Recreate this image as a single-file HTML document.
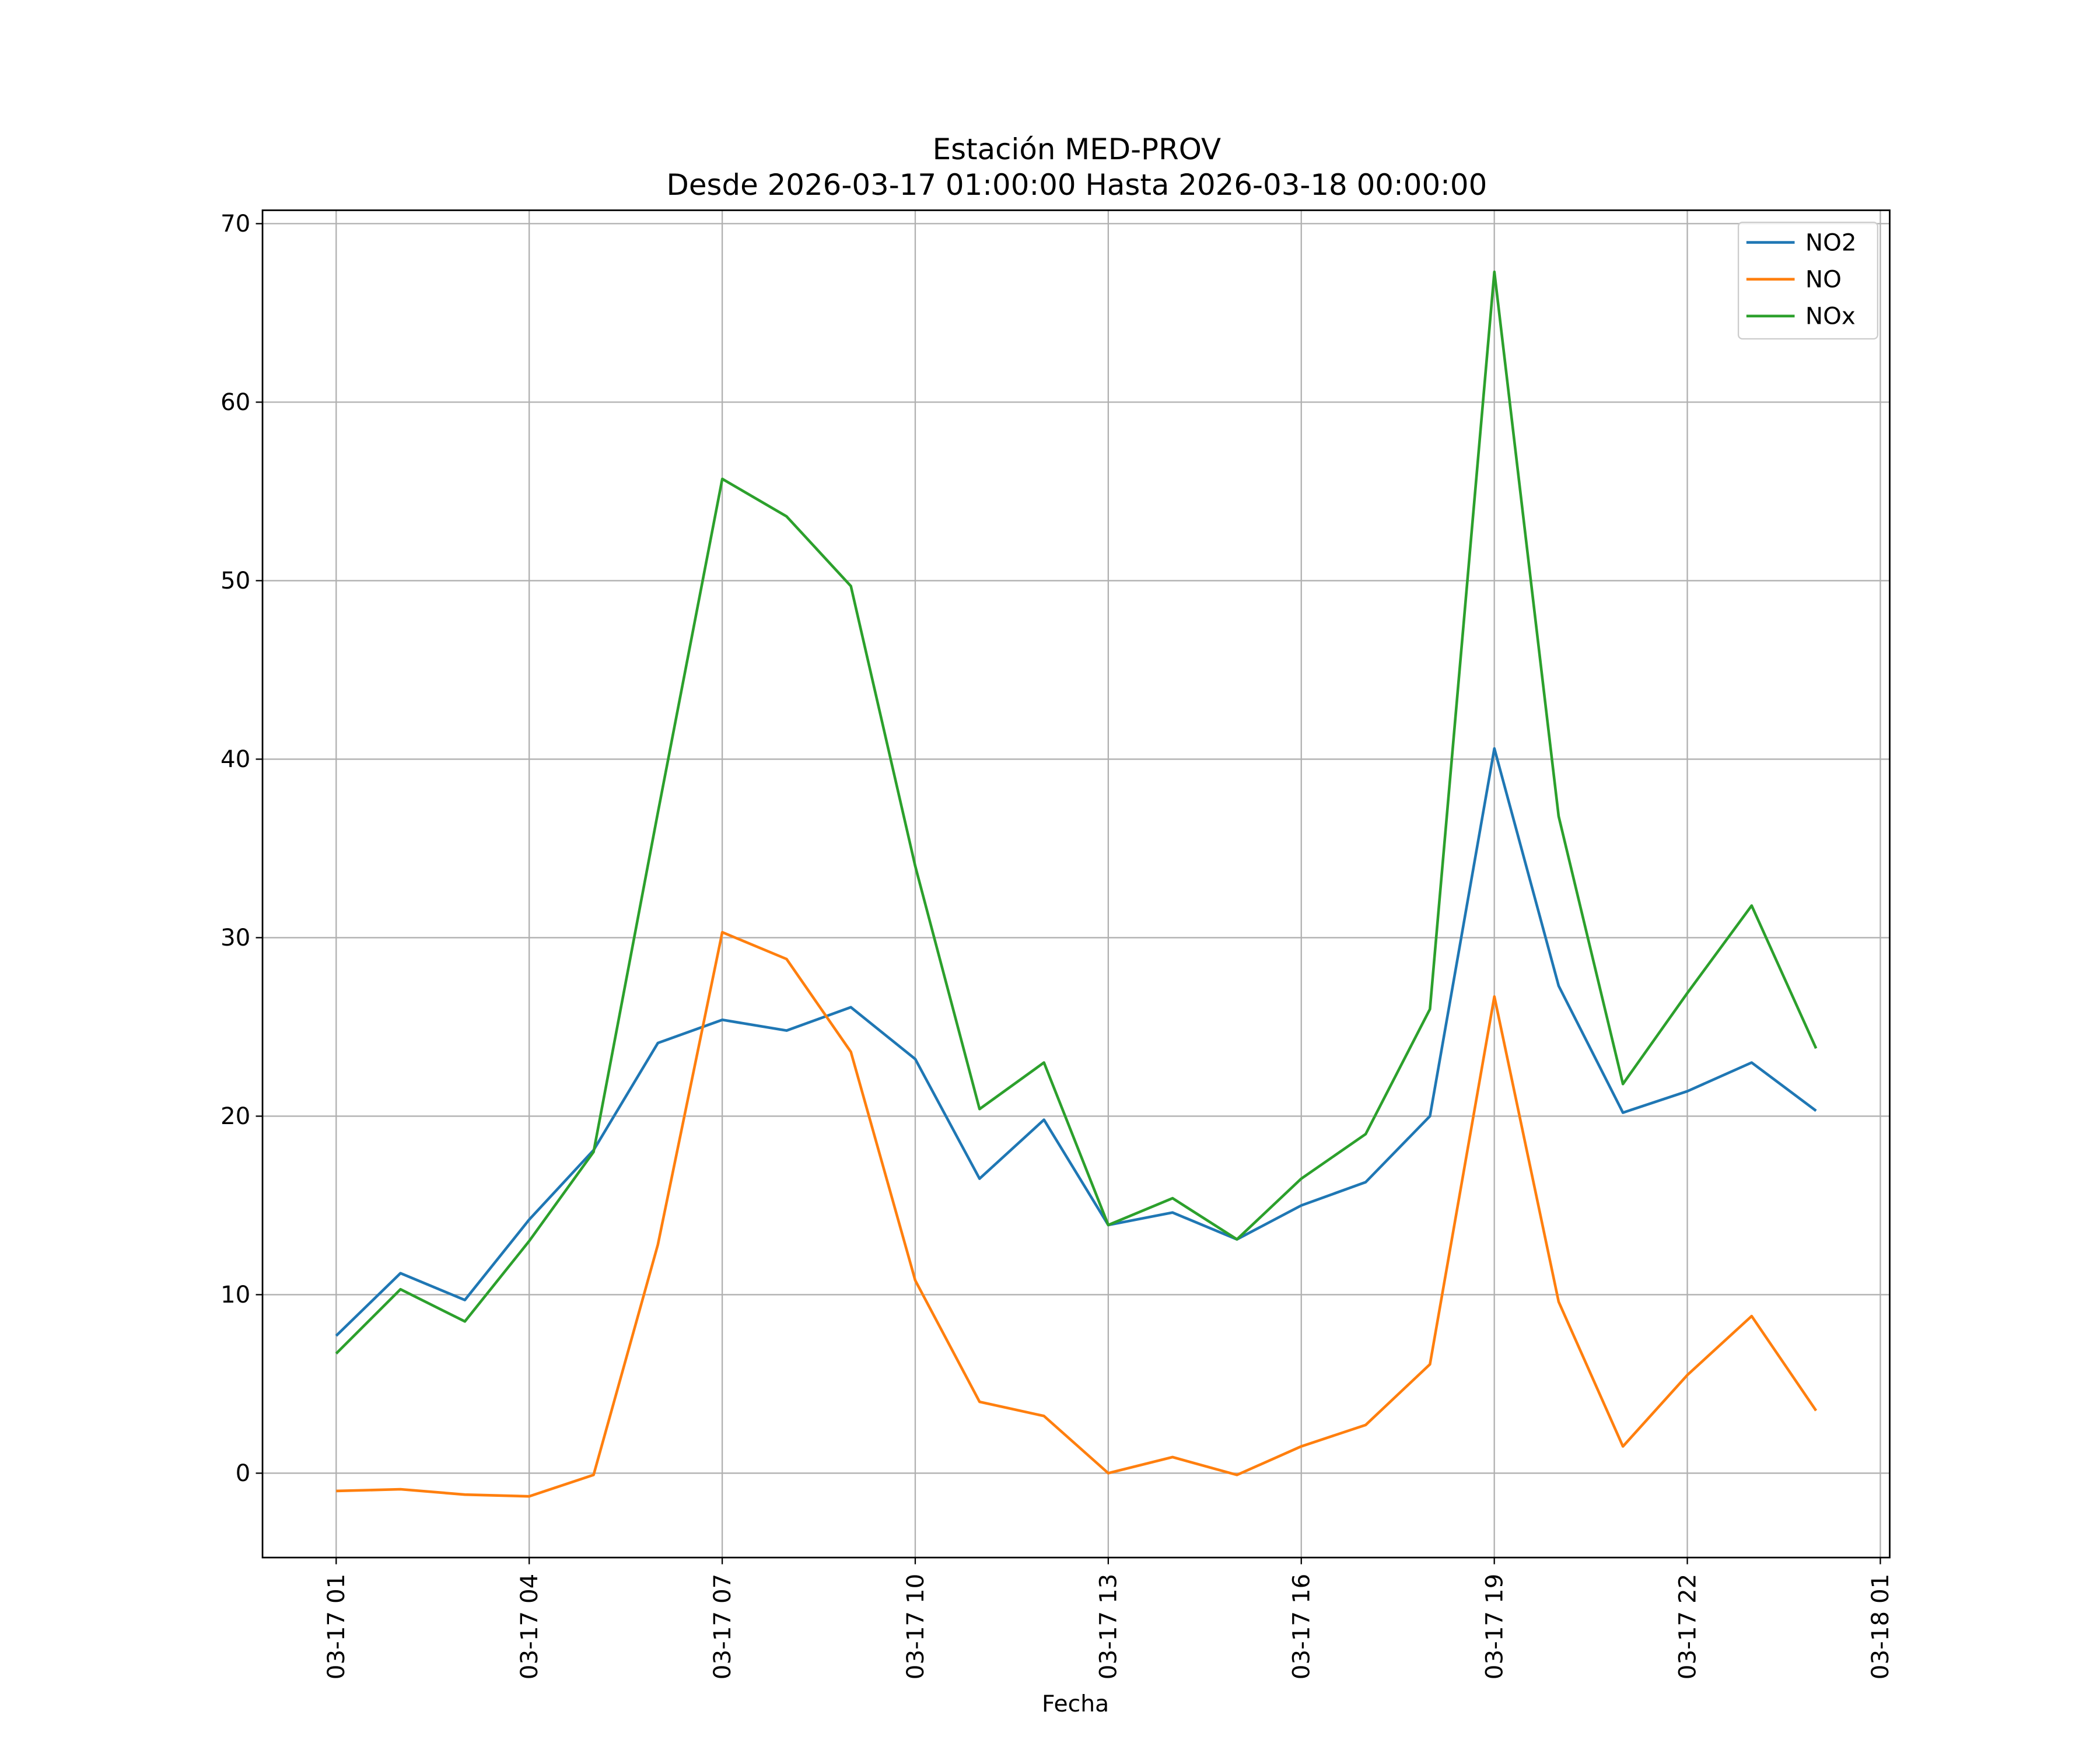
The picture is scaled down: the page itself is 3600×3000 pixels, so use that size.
<!DOCTYPE html>
<html><head><meta charset="utf-8"><style>
html,body{margin:0;padding:0;background:#fff}
svg{display:block}
text{font-family:"DejaVu Sans","Liberation Sans",sans-serif;fill:#000}
</style></head><body>
<svg id="chart" width="3600" height="3000" viewBox="0 0 1568 1306.7" xmlns="http://www.w3.org/2000/svg">
<rect width="1568" height="1306.7" fill="#fff"/>
<text x="804" y="119" font-size="21.7" text-anchor="middle">Estación MED-PROV</text>
<text x="804" y="145.5" font-size="21.7" text-anchor="middle">Desde 2026-03-17 01:00:00 Hasta 2026-03-18 00:00:00</text>
<g id="grid"></g>
<g id="series"></g>
<rect x="196" y="157" width="1215" height="1006" fill="none" stroke="#000" stroke-width="1.2"/>
<g id="ticks"></g>
<text x="803" y="1278" font-size="17.1" text-anchor="middle">Fecha</text>
<g>
<rect x="1298" y="166" width="104" height="87" rx="3" fill="#fff" fill-opacity="0.8" stroke="#ccc"/>
<g id="legend"></g>
</g>
</svg>
<script>
const hours = [1,2,3,4,5,6,7,8,9,10,11,12,13,14,15,16,17,18,19,20,21,22,23,24];
const no2 = [7.7,11.2,9.7,14.2,18.1,24.1,25.4,24.8,26.1,23.2,16.5,19.8,13.9,14.6,13.1,15.0,16.3,20.0,40.6,27.3,20.2,21.4,23.0,20.3];
const no = [-1.0,-0.9,-1.2,-1.3,-0.1,12.8,30.3,28.8,23.6,10.8,4.0,3.2,0.0,0.9,-0.1,1.5,2.7,6.1,26.7,9.6,1.5,5.5,8.8,3.5];
const nox = [6.7,10.3,8.5,13.0,18.0,37.0,55.7,53.6,49.7,34.0,20.4,23.0,13.9,15.4,13.1,16.5,19.0,26.0,67.3,36.8,21.8,26.9,31.8,23.8];
const yTicks = [0,10,20,30,40,50,60,70];
const xTickHours = [1,4,7,10,13,16,19,22,25];
const xTickLabels = ["03-17 01","03-17 04","03-17 07","03-17 10","03-17 13","03-17 16","03-17 19","03-17 22","03-18 01"];
const seriesNames = ["NO2","NO","NOx"];
const seriesColors = ["#1f77b4","#ff7f0e","#2ca02c"];

const NS="http://www.w3.org/2000/svg";
const X0=196,XR=1411,Y0=157,Y1=1163;
const hrPx=(1404-251)/24;
function xs(h){return 251+(h-1)*hrPx;}
function ys(v){return 1100-v*(933/70);}
function mk(tag,attrs,parent){const e=document.createElementNS(NS,tag);for(const k in attrs)e.setAttribute(k,attrs[k]);parent.appendChild(e);return e;}
const grid=document.getElementById('grid'),ticks=document.getElementById('ticks'),ser=document.getElementById('series'),leg=document.getElementById('legend');
yTicks.forEach(v=>{
  const y=ys(v);
  const g=mk('line',{x1:X0,x2:XR,y1:y,y2:y,stroke:'#b0b0b0','stroke-width':1},grid);
  
  
  mk('line',{x1:X0-5,x2:X0,y1:y,y2:y,stroke:'#000'},ticks);
  const t=mk('text',{x:X0-9,y:y+6,'font-size':17.6,'text-anchor':'end'},ticks);
  t.textContent=v;
  
  
});
xTickHours.forEach((h,i)=>{
  const x=xs(h);
  const g=mk('line',{x1:x,x2:x,y1:Y0,y2:Y1,stroke:'#b0b0b0','stroke-width':1},grid);
  
  
  mk('line',{x1:x,x2:x,y1:Y1,y2:Y1+5,stroke:'#000'},ticks);
  const t=mk('text',{x:0,y:0,'font-size':17.6,'text-anchor':'end',transform:`translate(${x+6},${Y1+12}) rotate(-90)`},ticks);
  t.textContent=xTickLabels[i];
  
  
});
[no2,no,nox].forEach((arr,si)=>{
  const pts=arr.map((v,i)=>xs(hours[i]).toFixed(1)+','+ys(v).toFixed(1)).join(' ');
  const p=mk('polyline',{points:pts,fill:'none',stroke:seriesColors[si],'stroke-width':2,'stroke-linejoin':'round'},ser);
  
  
  const ly=181+si*27.5;
  const l=mk('line',{x1:1304,x2:1340,y1:ly,y2:ly,stroke:seriesColors[si],'stroke-width':2},leg);
  
  
  const t=mk('text',{x:1348,y:ly+6,'font-size':17.6},leg);
  t.textContent=seriesNames[si];
  
  
});
</script>
</body></html>
